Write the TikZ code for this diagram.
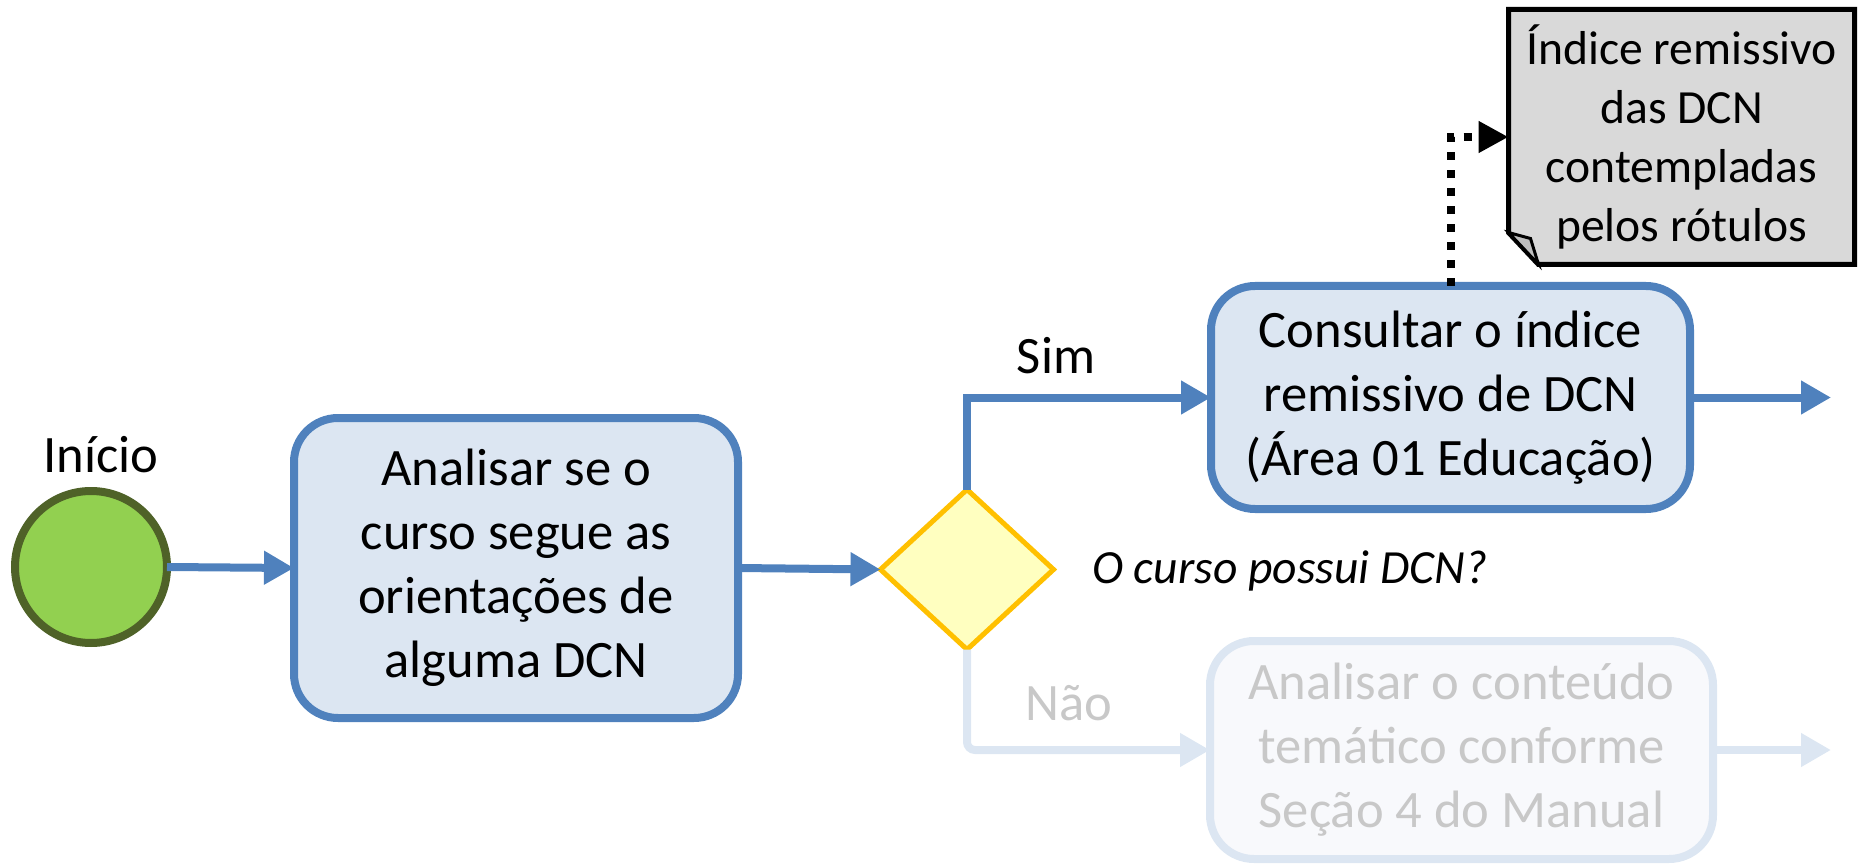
\documentclass[tikz,border=0pt]{standalone}
\usepackage{fontspec}
\setmainfont{Carlito}
\usetikzlibrary{arrows.meta,shapes.geometric,backgrounds}
\definecolor{bpmblue}{HTML}{4F81BD}
\definecolor{boxfill}{HTML}{DCE6F2}
\definecolor{startfill}{HTML}{92D050}
\definecolor{startline}{HTML}{4F6228}
\definecolor{gatefill}{HTML}{FFFFC0}
\definecolor{gateline}{HTML}{FFC000}
\definecolor{docfill}{HTML}{D9D9D9}
\definecolor{foldfill}{HTML}{BFBFBF}
\definecolor{fadeline}{HTML}{DCE6F2}
\definecolor{fadefill}{HTML}{F8F9FC}
\definecolor{fadetext}{HTML}{C8C8C8}
\begin{document}
\begin{tikzpicture}[x=0.5pt,y=-0.5pt,
  every node/.style={inner sep=0pt, outer sep=0pt},
  big/.style={font=\fontsize{26.3}{32}\selectfont},
  task/.style={big, rectangle, rounded corners=22pt, draw=bpmblue, fill=boxfill, line width=4pt, align=center},
  fadetask/.style={task, draw=fadeline, fill=fadefill, text=fadetext},
  flow/.style={draw=bpmblue, line width=4pt, -{Triangle[length=15pt,width=16pt]}},
  fadeflow/.style={flow, draw=fadeline, rounded corners=4pt},
  assoc/.style={draw=black, line width=4pt, dash pattern=on 4pt off 5pt, -{Triangle[length=15pt,width=15pt]}},
  docline/.style={draw=black, fill=docfill, line width=2.5pt, line join=miter}
]
\useasboundingbox (0,0) rectangle (1858,866);

% start event
\node[circle, draw=startline, fill=startfill, line width=4pt, minimum size=76pt] (start) at (91,567) {};
\node[big, anchor=base] (inicio) at (101,472) {Início};

% tasks
\node[task, minimum width=222pt, minimum height=150pt] (box1) at (516,568)
  {Analisar se o\\curso segue as\\orientações de\\alguma DCN};
\node[task, minimum width=239.5pt, minimum height=111.5pt] (box2) at (1450.5,397.5)
  {Consultar o índice\\remissivo de DCN\\(Área 01 Educação)};
\node[fadetask, minimum width=251.5pt, minimum height=109pt] (box3) at (1461.5,750)
  {Analisar o conteúdo\\temático conforme\\Seção 4 do Manual};

% gateway
\node[diamond, draw=gateline, fill=gatefill, line width=2.5pt, minimum width=86.5pt, minimum height=80pt] (gate) at (967,569.5) {};
\node[font=\fontsize{23.8}{28}\selectfont\itshape, anchor=base west] (question) at (1092,583) {O curso possui DCN?};

% data object
\node[font=\fontsize{23.8}{29.5}\selectfont, align=center, minimum width=173pt, minimum height=127.5pt] (doc) at (1681.5,137)
  {Índice remissivo\\das DCN\\contempladas\\pelos rótulos};
\begin{scope}[on background layer]
\draw[docline] (doc.north west) -- (doc.north east) -- (doc.south east)
  -- ([xshift=15pt]doc.south west) -- ([yshift=16pt]doc.south west) -- cycle;
\filldraw[draw=black, fill=foldfill, line width=1.5pt, line join=miter]
  ([yshift=16pt]doc.south west) -- ([xshift=11pt,yshift=13pt]doc.south west) -- ([xshift=15pt]doc.south west) -- cycle;
\end{scope}

% labels
\node[big, anchor=base] (sim) at (1056,373) {Sim};
\node[big, anchor=base, text=fadetext] (nao) at (1069,720) {Não};

% flows
\coordinate (out2) at (1831,397.5);
\coordinate (out3) at (1831,750);
\draw[flow] (start.east) -- (box1.west);
\draw[flow] (box1.east) -- (gate.west);
\draw[flow] (gate.north) |- (box2.west);
\draw[flow] (box2.east) -- (out2);
\draw[fadeflow] (gate.south) |- (box3.west);
\draw[fadeflow] (box3.east) -- (out3);
\draw[assoc] (box2.north) |- (doc.west);
\end{tikzpicture}
\end{document}
